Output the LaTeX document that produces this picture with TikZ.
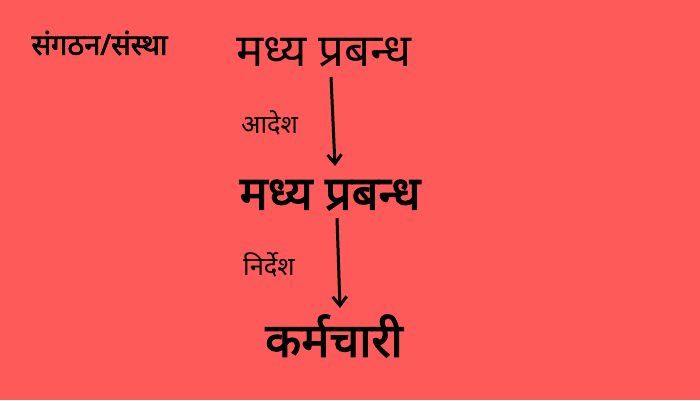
\documentclass[tikz,border=0pt]{standalone}
\usepackage{fontspec}
\newfontfamily\deva[Script=Devanagari]{Noto Sans}
\newfontfamily\devab[Script=Devanagari,FakeBold=2.5]{Noto Sans}
\usetikzlibrary{arrows.meta}
\definecolor{fondo}{HTML}{FF5A5A}
\tikzset{
  rotulo/.style={font=\deva, inner sep=0pt, text=black},
  flecha/.style={line width=3pt, -{Straight Barb[length=9pt,width=14pt,line width=3pt]}}
}
\begin{document}
\begin{tikzpicture}[x=1pt,y=-1pt]

  % Fondo
  \fill[fondo] (0,0) rectangle (700,400);
  \useasboundingbox (0,0) rectangle (700,400);

  % Titulo
  \node[rotulo, font=\devab\fontsize{29}{34}\selectfont] (org) at (99.5,43) {संगठन/संस्था};

  % Niveles
  \node[rotulo, font=\deva\fontsize{45.5}{52}\selectfont] (arriba) at (323.5,52) {मध्य प्रबन्ध};
  \node[rotulo, font=\devab\fontsize{47}{54}\selectfont] (medio) at (330,195) {मध्य प्रबन्ध};
  \node[rotulo, font=\devab\fontsize{47}{54}\selectfont] (abajo) at (334,336) {कर्मचारी};

  % Flechas
  \coordinate (a1) at (331,77);
  \coordinate (b1) at (335,166);
  \coordinate (a2) at (337,218);
  \coordinate (b2) at (340,308);
  \draw[flecha] (a1) -- (b1);
  \draw[flecha] (a2) -- (b2);

  % Etiquetas
  \node[rotulo, font=\deva\fontsize{25.5}{30}\selectfont] (orden) at (269.5,123) {आदेश};
  \node[rotulo, font=\deva\fontsize{25.5}{30}\selectfont] (guia) at (269,265) {निर्देश};

\end{tikzpicture}
\end{document}
